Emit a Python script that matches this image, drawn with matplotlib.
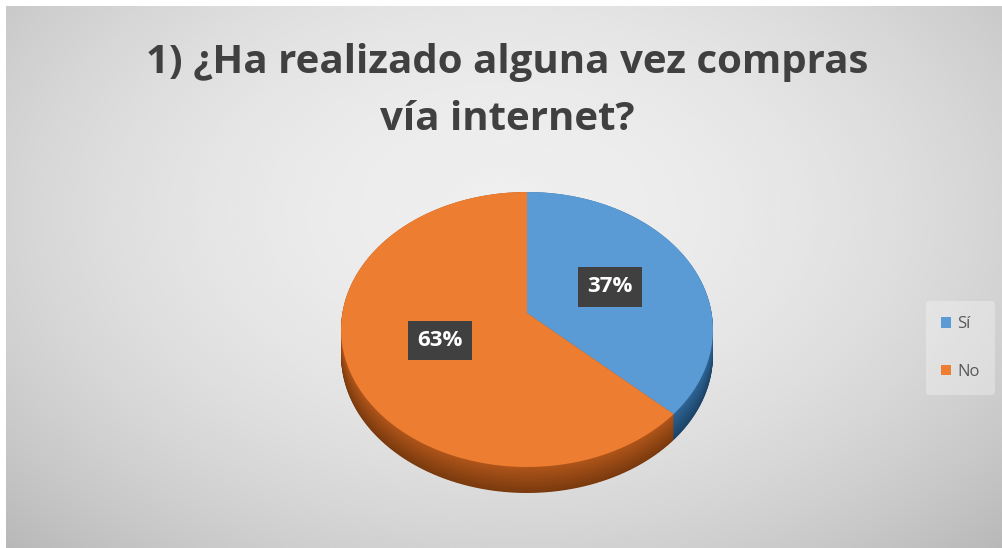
import matplotlib
matplotlib.use("Agg")
import matplotlib.pyplot as plt
import numpy as np
from matplotlib.transforms import Transform, Affine2D
from matplotlib.path import Path
from matplotlib.colors import to_rgb

# survey answers
labels = ["Sí", "No"]
values = [37, 63]
top_colors = ["#5b9bd5", "#ed7d31"]
side_top = ["#2f6596", "#b0551a"]
side_bottom = ["#1c4366", "#7a3a0e"]
title_lines = ["1) ¿Ha realizado alguna vez compras", "vía internet?"]

plt.rcParams["font.family"] = ["Open Sans", "DejaVu Sans"]

W, H = 1003, 548


class Tilt(Transform):
    """Unit pie -> pixels, seen from above at an angle (simple perspective)."""
    input_dims = output_dims = 2

    def __init__(self, drop=0.0, cx=527, cy=313, a=184.6, b=135.5, k=0.12):
        super().__init__()
        self.drop, self.cx, self.cy, self.a, self.b, self.k = drop, cx, cy, a, b, k

    def transform_non_affine(self, pts):
        pts = np.asarray(pts, dtype=float).reshape(-1, 2)
        u, v = pts[:, 0], pts[:, 1]
        d = 1 + self.k * v
        return np.column_stack([self.cx + self.a * u / d,
                                self.cy - self.b * v / d + self.drop])

    def transform_path_non_affine(self, path):
        # flatten the arcs first so the curved edge stays smooth
        polys = path.to_polygons(transform=Affine2D().scale(1000))
        parts = [Path(self.transform_non_affine(p / 1000), closed=True) for p in polys]
        return Path.make_compound_path(*parts)


fig = plt.figure(figsize=(W / 100, H / 100), dpi=100, facecolor="white")

# grey radial background of the chart area
bg = fig.add_axes([6 / W, 0, 1 - 6 / W, 1 - 6 / H])
yy, xx = np.mgrid[0:1:300j, 0:1:500j]
r = np.sqrt(((xx - 0.5) / 0.62) ** 2 + ((yy - 0.38) / 0.75) ** 2)
shade = 0.935 - 0.16 * np.clip(r, 0, 1.3) ** 2
bg.imshow(shade, cmap="gray", vmin=0, vmax=1, extent=(0, 1, 1, 0),
          aspect="auto", interpolation="bicubic")
bg.set_axis_off()

ax = fig.add_axes([0, 0, 1, 1])
ax.set_axis_off()

# pie side, stacked layers from bottom (darker) to top
depth = 26
n = 40
for i in range(n):
    t = i / (n - 1)
    cols = [tuple((1 - t) * np.array(to_rgb(lo)) + t * np.array(to_rgb(hi)))
            for hi, lo in zip(side_top, side_bottom)]
    ws, _ = ax.pie(values, colors=cols, startangle=90, counterclock=False,
                   wedgeprops=dict(linewidth=0))
    for w in ws:
        w.set_transform(Tilt(drop=depth * (1 - t)) + ax.transData)

# top face with the percentage labels
wedges, _, autotexts = ax.pie(
    values, colors=top_colors, startangle=90, counterclock=False,
    autopct="%1.0f%%", pctdistance=0.5,
    wedgeprops=dict(linewidth=0),
    textprops=dict(color="white", fontsize=16, fontweight="bold"))
for w in wedges:
    w.set_transform(Tilt() + ax.transData)
for t in autotexts:
    t.set_transform(Tilt() + ax.transData)
    t.set_bbox(dict(boxstyle="square,pad=0.42", facecolor="#404040",
                    edgecolor="none"))

ax.set_aspect("auto")
ax.set_xlim(0, W)
ax.set_ylim(H, 0)

for line, base in zip(title_lines, [73, 130]):
    fig.text(507 / W, 1 - base / H, line, ha="center", va="baseline",
             fontsize=29, fontweight="bold", color="#404040")

leg = fig.legend(wedges, labels, loc="center left",
                 bbox_to_anchor=(918 / W, 1 - 348 / H), frameon=True,
                 fontsize=12, handlelength=0.6, handleheight=0.6,
                 labelspacing=1.9, handletextpad=0.35, borderpad=0.9)
leg.get_frame().set_facecolor("white")
leg.get_frame().set_alpha(0.3)
leg.get_frame().set_edgecolor("none")
for txt in leg.get_texts():
    txt.set_color("#595959")

fig.savefig("out.png", dpi=100, facecolor="white")
